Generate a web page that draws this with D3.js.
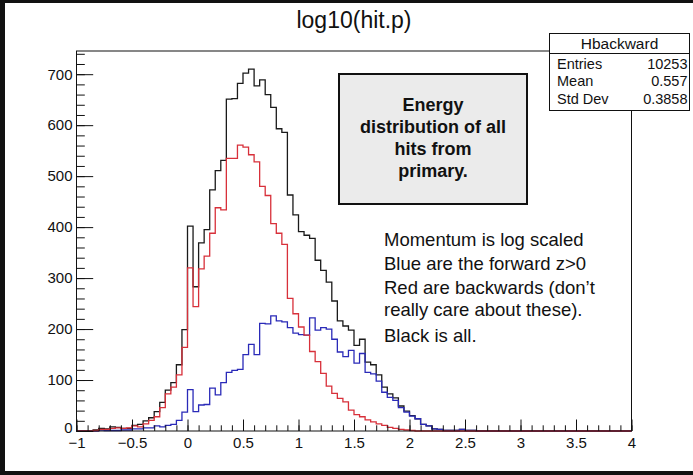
<!DOCTYPE html>
<html>
<head>
<meta charset="utf-8">
<script src="https://cdn.jsdelivr.net/npm/d3@7"></script>
<style>
  html, body { margin: 0; padding: 0; background: #fff; }
  svg { display: block; font-family: "Liberation Sans", Arial, Helvetica, sans-serif; }
</style>
</head>
<body>
<div class="chart"></div>
<script>
// histogram: 100 bins of 0.05 from -1 to 4
const binWidth = 0.05;
const binLow = d3.range(100).map(i => -1 + i * binWidth);

// all hits (black)
const allCounts = [
  0, 0, 0, 2, 5, 4, 8, 7, 5, 5,
  11, 13, 20, 26, 38, 56, 80, 95, 130, 199,
  402, 283, 369, 395, 473, 511, 531, 651, 652, 682,
  702, 710, 677, 689, 660, 635, 593, 586, 463, 424,
  391, 384, 378, 335, 315, 292, 255, 216, 206, 198,
  168, 180, 135, 130, 110, 86, 73, 65, 49, 39,
  30, 24, 13, 10, 4, 3, 1, 1, 1, 3,
  1, 1, 0, 0, 0, 0, 0, 0, 0, 0,
  0, 0, 0, 0, 0, 0, 0, 0, 0, 0,
  0, 0, 0, 0, 0, 0, 0, 0, 0, 0
];
// forward z>0 (blue)
const forwardCounts = [
  0, 0, 0, 0, 2, 1, 1, 1, 2, 2,
  4, 4, 6, 6, 10, 8, 11, 13, 21, 37,
  81, 38, 51, 52, 84, 71, 95, 115, 119, 121,
  150, 170, 150, 211, 210, 226, 216, 214, 203, 192,
  189, 188, 222, 198, 203, 200, 180, 155, 146, 158,
  133, 152, 115, 112, 98, 76, 66, 60, 46, 37,
  29, 24, 13, 10, 4, 3, 1, 1, 1, 3,
  1, 1, 0, 0, 0, 0, 0, 0, 0, 0,
  0, 0, 0, 0, 0, 0, 0, 0, 0, 0,
  0, 0, 0, 0, 0, 0, 0, 0, 0, 0
];
// backward (red)
const backwardCounts = [
  0, 0, 0, 1, 3, 3, 5, 6, 5, 6,
  10, 8, 14, 21, 28, 46, 73, 86, 110, 164,
  320, 244, 318, 343, 388, 438, 434, 535, 535, 561,
  557, 542, 528, 480, 462, 407, 388, 366, 260, 230,
  204, 188, 156, 136, 113, 88, 74, 64, 57, 41,
  32, 28, 22, 18, 14, 11, 7, 5, 3, 2,
  1, 0, 0, 0, 0, 0, 0, 0, 0, 0,
  0, 0, 0, 0, 0, 0, 0, 0, 0, 0,
  0, 0, 0, 0, 0, 0, 0, 0, 0, 0,
  0, 0, 0, 0, 0, 0, 0, 0, 0, 0
];

const xMajor = [-1, -0.5, 0, 0.5, 1, 1.5, 2, 2.5, 3, 3.5, 4];
const xLabels = ["\u22121", "\u22120.5", "0", "0.5", "1", "1.5", "2", "2.5", "3", "3.5", "4"];
const yMajor = [0, 100, 200, 300, 400, 500, 600, 700];
const yLabels = ["0", "100", "200", "300", "400", "500", "600", "700"];

const title = "log10(hit.p)";
const statsName = "Hbackward";
const statsRows = [["Entries", "10253"], ["Mean", "0.557"], ["Std Dev", "0.3858"]];
const boxLines = ["Energy", "distribution of all", "hits from", "primary."];
const noteLines = ["Momentum is log scaled", "Blue are the forward z>0",
  "Red are backwards (don\u2019t", "really care about these).", "Black is all."];

const width = 693;
const height = 475;
const frame = { left: 76.5, right: 631.5, top: 51, bottom: 431 };

const x = d3.scaleLinear().domain([-1, 4]).range([frame.left, frame.right]);
const y = d3.scaleLinear().domain([0, 745.5]).range([frame.bottom, frame.top]);

const svg = d3.select('.chart')
  .append('svg')
  .attr('width', width)
  .attr('height', height);

svg.append('rect').attr('width', width).attr('height', height).attr('fill', '#fff');

// title
svg.append('text')
  .attr('x', 354).attr('y', 28)
  .attr('text-anchor', 'middle')
  .attr('font-size', 23)
  .attr('fill', '#111')
  .text(title);

// histograms
const step = d3.line().curve(d3.curveStepAfter).x(d => x(d[0])).y(d => y(d[1]));
function histPath(counts) {
  const pts = counts.map((c, i) => [binLow[i], c]);
  pts.push([4, counts[counts.length - 1]]);
  return step(pts);
}
const series = [
  { counts: allCounts, color: '#1a1a1a' },
  { counts: forwardCounts, color: '#2a2ab8' },
  { counts: backwardCounts, color: '#d8303a' }
];
svg.selectAll('path.hist')
  .data(series)
  .enter()
  .append('path')
  .attr('class', 'hist')
  .attr('d', d => histPath(d.counts))
  .attr('fill', 'none')
  .attr('stroke', d => d.color)
  .attr('stroke-width', 1.3);

// axes
svg.append('g').attr('transform', `translate(0,${frame.bottom})`)
  .call(d3.axisBottom(x).tickValues(xMajor).tickFormat((d, i) => xLabels[i])
    .tickSizeInner(-11.5).tickSizeOuter(0).tickPadding(6));
svg.append('g').attr('transform', `translate(0,${frame.bottom})`)
  .call(d3.axisBottom(x).tickValues(d3.range(-1, 4.001, 0.1)).tickFormat('')
    .tickSizeInner(-5.7).tickSizeOuter(0));
const yAxis = svg.append('g').attr('transform', `translate(${frame.left},0)`)
  .call(d3.axisLeft(y).tickValues(yMajor).tickFormat((d, i) => yLabels[i])
    .tickSizeInner(-16.7).tickSizeOuter(0).tickPadding(4));
svg.append('g').attr('transform', `translate(${frame.left},0)`)
  .call(d3.axisLeft(y).tickValues(d3.range(0, 745, 20)).tickFormat('')
    .tickSizeInner(-8.3).tickSizeOuter(0));
svg.selectAll('.domain').remove();
svg.selectAll('.tick line').attr('stroke', '#111').attr('stroke-width', 1);
svg.selectAll('.tick text').attr('font-size', 15).attr('fill', '#111')
  .attr('font-family', '"Liberation Sans", Arial, sans-serif');
// lift the "0" of the y axis a little, as in the reference
yAxis.selectAll('.tick text').filter(d => d === 0).attr('dy', '0.1em');

// frame
svg.append('rect')
  .attr('x', frame.left).attr('y', frame.top)
  .attr('width', frame.right - frame.left).attr('height', frame.bottom - frame.top)
  .attr('fill', 'none').attr('stroke', '#111').attr('stroke-width', 1);

// stats box
const stats = svg.append('g');
stats.append('rect').attr('x', 549.5).attr('y', 33.5).attr('width', 140).attr('height', 77)
  .attr('fill', '#fff').attr('stroke', '#111').attr('stroke-width', 1);
stats.append('line').attr('x1', 549.5).attr('x2', 689.5).attr('y1', 53.5).attr('y2', 53.5)
  .attr('stroke', '#111');
stats.append('text').attr('x', 619.5).attr('y', 49).attr('text-anchor', 'middle')
  .attr('font-size', 15.5).attr('fill', '#111').text(statsName);
statsRows.forEach((r, i) => {
  stats.append('text').attr('x', 557).attr('y', 68.5 + i * 17.5)
    .attr('font-size', 14.5).attr('fill', '#111').text(r[0]);
  stats.append('text').attr('x', 687.5).attr('y', 68.5 + i * 17.5).attr('text-anchor', 'end')
    .attr('font-size', 14.5).attr('fill', '#111').text(r[1]);
});

// gray text box
svg.append('rect').attr('x', 339).attr('y', 74).attr('width', 188).attr('height', 130)
  .attr('fill', '#ebebeb').attr('stroke', '#111').attr('stroke-width', 2);
svg.selectAll('text.boxline')
  .data(boxLines)
  .enter()
  .append('text')
  .attr('class', 'boxline')
  .attr('x', 433).attr('y', (d, i) => 111 + i * 22)
  .attr('text-anchor', 'middle')
  .attr('font-size', 18).attr('font-weight', 'bold').attr('fill', '#111')
  .text(d => d);

// notes
const noteY = [246, 270, 294, 316, 342];
svg.selectAll('text.note')
  .data(noteLines)
  .enter()
  .append('text')
  .attr('class', 'note')
  .attr('x', 384).attr('y', (d, i) => noteY[i])
  .attr('font-size', 18.5).attr('fill', '#111')
  .text(d => d);

// slide border
svg.append('rect').attr('x', 0).attr('y', 0).attr('width', 5).attr('height', height).attr('fill', '#111');
svg.append('rect').attr('x', 0).attr('y', 0).attr('width', width).attr('height', 3).attr('fill', '#111');
svg.append('rect').attr('x', 0).attr('y', height - 4).attr('width', width).attr('height', 4).attr('fill', '#111');
</script>
</body>
</html>
